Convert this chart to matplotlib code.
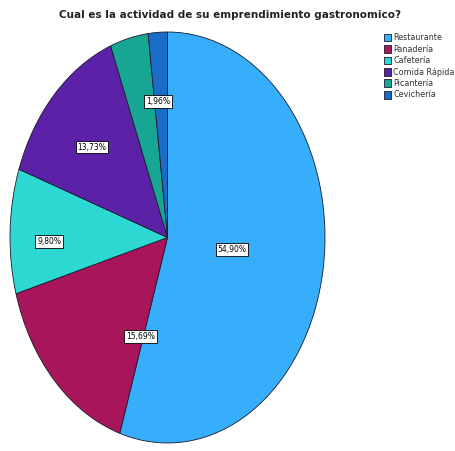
import matplotlib
matplotlib.use('Agg')
import matplotlib.pyplot as plt

# Data
categories = ['Restaurante', 'Panadería', 'Cafetería', 'Comida Rápida', 'Picantería', 'Cevichería']
percentages = [54.90, 15.69, 9.80, 13.73, 3.92, 1.96]
labels = ['54,90%', '15,69%', '9,80%', '13,73%', '', '1,96%']
colors = ['#36AEFB', '#A8155A', '#2ED8D2', '#5B22A8', '#17A594', '#1B6CC8']

# where the value boxes sit inside the ellipse (axes units, -1..1)
label_pos = [(0.41, -0.06), (-0.17, -0.48), (-0.75, -0.02), (-0.48, 0.44), None, (-0.06, 0.66)]

fig = plt.figure(figsize=(4.55, 4.51), dpi=100)
ax = fig.add_axes([10 / 455, 8 / 451, 315 / 455, 411 / 451])

wedges, _ = ax.pie(percentages, colors=colors, startangle=90, counterclock=False,
                   wedgeprops=dict(edgecolor='#1a1a2e', linewidth=0.6))
ax.set_aspect('auto')
ax.set_xlim(-1.0, 1.0)
ax.set_ylim(-1.0, 1.0)
ax.axis('off')

for lab, pos in zip(labels, label_pos):
    if lab and pos:
        ax.text(pos[0], pos[1], lab, ha='center', va='center',
                fontsize=5.5, family='Liberation Sans Narrow',
                bbox=dict(boxstyle='square,pad=0.25', fc='white', ec='black', lw=0.6))

fig.text(0.505, 0.966, 'Cual es la actividad de su emprendimiento gastronomico?',
         ha='center', va='center', fontsize=7.5, fontweight='bold', color='#222222',
         family='Liberation Sans Narrow')

leg = fig.legend(wedges, categories, loc='upper left', bbox_to_anchor=(0.836, 0.935),
                 frameon=False, handlelength=0.85, handleheight=1.1,
                 handletextpad=0.25, labelspacing=0.3, borderpad=0,
                 prop={'family': 'Liberation Sans Narrow', 'size': 5.8})
for t in leg.get_texts():
    t.set_color('#333333')

fig.savefig('out.png', dpi=100)
